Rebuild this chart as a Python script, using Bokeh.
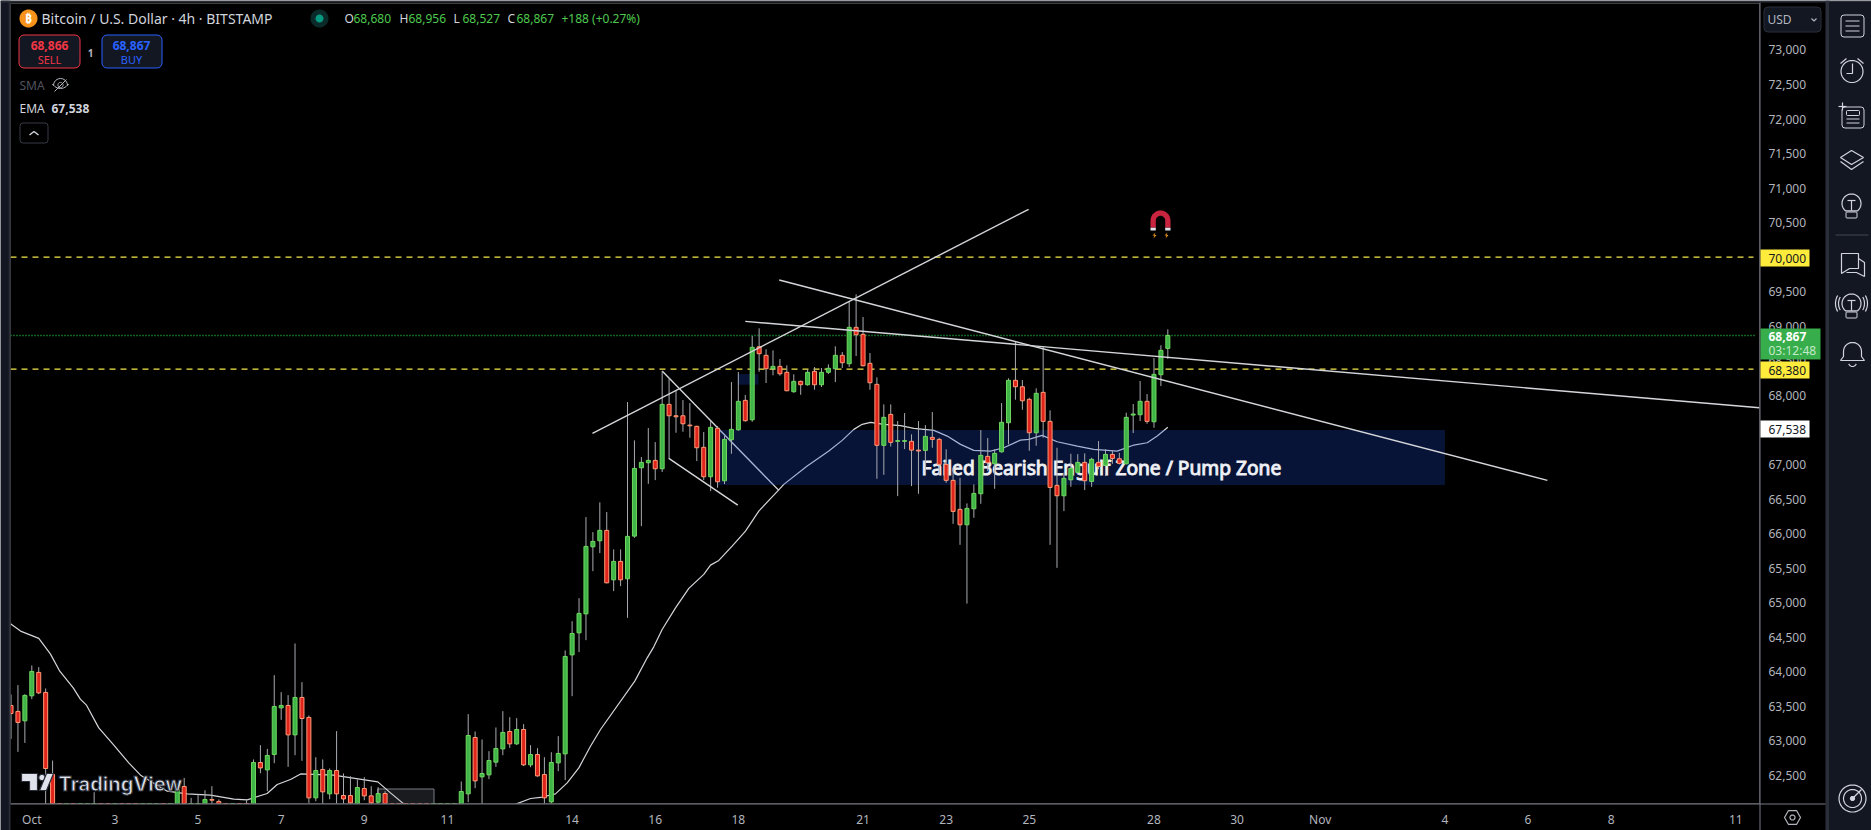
import math
from bokeh.plotting import figure
from bokeh.layouts import column
from bokeh.embed import file_html
from bokeh.resources import INLINE
from bokeh.models import BoxAnnotation, FixedTicker, NumeralTickFormatter, Range1d, ColumnDataSource
from bokeh.core.properties import value

# ---------- data ----------
first_bar = -3
opens = [63511,63425,63289,63651,63990,63700,62513,61692,61250,61400,61100,61300,61500,61700,61200,60900,61000,60950,60850,60700,60900,61200,61350,61250,
 61600,62339,61692,61750,61909,62151,62122,61981,61900,62000,61950,61909,62686,62579,62802,63477,63512,63086,63628,63338,62174,62585,62232,62570,62208,62208,61950,62310,62203,62112,62237,
 61950,61800,61700,61600,61400,61300,61200,61350,61450,61550,61800,62232,63048,62478,62507,62691,62883,63135,62956,63164,62652,62802,62513,62116,62681,62811,64244,64563,64838,65808,65895,66046,65330,65597,65345,65963,66952,67025,67059,66938,67870,67705,67705,67570,67552,67248,66822,67523,66764,67358,67502,67928,67647,68704,68580,68386,68420,68334,68053,68203,68154,68348,68154,68334,68386,68580,68458,68985,68884,68464,68160,67277,67725,67335,67335,67335,67208,67204,67392,67363,67001,66770,66350,66127,66359,66576,67117,67010,67184,67604,68218,68125,67943,67459,68044,67624,66697,66547,66778,66886,67030,66755,67030,66987,67146,67083,67010,67715,67720,67914,67618,68299,68680]
highs = [63670,63806,63675,64091,64066,63758,62715,61800,61500,61650,61500,61700,62256,61950,61400,61200,61300,61150,61100,61000,61300,61500,61600,61700,
 62343,62463,62174,62223,62285,62343,62151,62040,62093,62060,62140,62730,62937,62883,63950,63704,63661,64409,63849,63367,62763,62730,62599,63140,62527,62488,62440,62474,62343,62329,62271,
 62060,62040,61900,61850,61700,61550,61500,61700,61800,61900,62411,63386,63135,63019,62850,63193,63429,63342,63328,63241,62937,62893,62763,62835,63067,64308,64732,65065,66238,66021,66451,66311,65771,65771,67904,67349,67107,67527,67324,68352,68247,68063,67932,67889,67560,67469,67628,67556,67411,68193,68338,68005,68859,68971,68667,68652,68526,68435,68305,68215,68377,68410,68396,68449,68710,68628,69366,69463,69134,68613,68261,67870,67870,67628,67744,67436,67628,67570,67759,67387,67219,66952,66807,66437,66712,67498,67382,67219,67889,68247,68787,68222,67966,68102,68704,67783,67242,66880,67155,67150,67161,67097,67339,67219,67194,67169,67749,67875,68208,68019,68541,68725,68956]
lows = [63027,62840,62970,63603,63675,61909,61550,61100,60900,61000,60800,61000,61300,61100,60700,60500,60800,60600,60500,60450,60750,61000,61100,61100,
 61500,61619,61500,61600,61760,61909,61909,61800,61800,61850,61850,61850,62531,62271,62676,63303,62623,62792,62710,62101,62126,61950,62155,61950,61950,61900,61850,62140,62050,61950,61800,
 61700,61600,61400,61200,61100,61000,61050,61200,61300,61400,61750,62112,62314,62050,62445,62623,62792,62898,62940,62633,62618,62480,62050,62090,62560,62430,63646,64284,64457,65456,65717,65280,65167,65239,64780,65939,66108,66720,66774,66890,67083,67459,67473,67387,67049,66774,66615,66663,66716,67155,67490,67620,67618,68342,68179,68290,68285,68060,68038,68009,68140,68082,68121,68309,68193,68396,68410,68570,68420,68082,66793,66851,67260,66542,67223,66687,66576,66857,67242,66857,66735,66141,65837,64986,66228,66431,66904,66648,67170,67291,67937,67792,67198,67271,67387,65837,65504,66325,66677,66857,66629,66677,66929,66832,67010,67001,67000,67455,67628,67589,67531,68135,68527]
closes = [63395,63266,63657,64004,63694,62599,61692,61250,61400,61100,61300,61500,61700,61200,60900,61000,60950,60850,60700,60900,61200,61350,61250,61600,
 62295,61692,61750,61900,62151,62140,61981,61900,62000,61950,61909,62686,62608,62788,63497,63512,63086,63628,63323,62174,62570,62261,62570,62232,62159,62101,62324,62203,62101,62237,61950,
 61800,61700,61600,61400,61300,61200,61350,61450,61550,61800,62266,63077,62420,62527,62715,62889,63121,62956,63164,62652,62802,62492,62174,62686,62817,64221,64554,64844,65814,65886,66046,65287,65597,65330,65959,66943,67030,67059,66938,67870,67705,67690,67589,67560,67242,66822,67537,66750,67363,67508,67914,67633,68696,68603,68386,68420,68313,68067,68203,68154,68334,68154,68334,68392,68580,68473,68985,68878,68429,68183,67277,67682,67320,67345,67345,67208,67195,67407,67363,67001,66770,66321,66127,66364,66581,67132,67025,67161,67610,68218,68125,67922,67459,68030,67624,66668,66547,66799,66943,67030,66764,67074,66972,67146,67088,67016,67682,67730,67914,67624,68305,68652,68867]

ema_bar = [-3.07,-1.63,1.01,2.7,4.04,5.98,7.03,7.9,9.67,11.84,14.0,15.7,19.55,22.43,25.8,29.16,31.1,33.98,35.43,37.35,38.8,43.55,49.95,51.78,53.7,57.56,63.33,67.66,69.97,72,73.44,75.6,77.29,78.97,80.65,82.1,87.05,88.84,89.79,91.0,92.93,94.85,97.01,97.98,99.18,101.1,103.03,104.95,107.8,108.56,111.94,115.06,116.99,118.67,119.88,121.08,123.0,125.41,127.33,130.22,132.15,134.07,135.99,138.4,140.32,142.73,143.93,145.86,148.03,150.92,153.31,156.69,159.09,161.02,162.47,164]
ema_val = [64693,64588,64482,64255,64008,63767,63599,63516,63187,62937,62681,62503,62271,62232,62213,62155,62145,62237,62368,62440,62521,62503,62406,62246,62087,61909,61807,61952,62087,62165,62180,62232,62391,62608,62922,63164,63864,64201,64360,64612,64925,65206,65409,65543,65611,65818,66036,66325,66629,66712,66977,67194,67349,67508,67581,67610,67581,67563,67523,67494,67411,67291,67204,67194,67242,67353,67363,67421,67329,67266,67219,67194,67281,67314,67411,67538]

trend_a_bar, trend_a_val = [80.94,143.9], [67449,70694]
trend_b_bar, trend_b_val = [107.9,218.8], [69670,66770]
trend_c_bar, trend_c_val = [103.0,249.4], [69072,67821]
trend_d_bar, trend_d_val = [91.0,107.84], [68352,66625]
trend_e_bar, trend_e_val = [91.96,101.92], [67088,66412]

zone_bar, zone_top, zone_bottom = [99.1,204.0], 67498, 66702
patch_bar, patch_top, patch_bottom = [101.9,104.9], 68309, 68154

price_ticks = [p for p in range(62500, 73001, 500)]
date_bars = [0,12,24,36,48,60,78,90,102,120,132,144,162,174,186,204,216,228,246]
date_labels = ["Oct","3","5","7","9","11","14","16","18","21","23","25","28","30","Nov","4","6","8","11"]
level_70000, level_68380, last_price, ema_last = 70000, 68380, 68867, 67538

# ---------- page geometry ----------
W, H = 1871, 830
FL, FR, FT, FB = 10, 1759, 3, 803
BAR0, BARW = 31.3, 6.927
xr = Range1d((FL-BAR0)/BARW, (FR-BAR0)/BARW)
yr = Range1d(73716-14.475*FB, 73716-14.475*FT)

FONT = "Noto Sans"
p = figure(width=W, height=H, frame_width=FR-FL, frame_height=FB-FT, x_range=xr, y_range=yr, output_backend="svg", toolbar_location=None,
           y_axis_location="right", background_fill_color="#000000", border_fill_color="#000000",
           min_border_left=FL, min_border_right=W-FR, min_border_top=FT, min_border_bottom=H-FB,
           outline_line_color=None, frame_align=False)
p.grid.visible = False

ya = p.yaxis[0]
ya.ticker = FixedTicker(ticks=price_ticks)
ya.formatter = NumeralTickFormatter(format="0,0")
ya.major_tick_line_color = None; ya.minor_tick_line_color = None; ya.axis_line_color = None
ya.major_label_text_color = "#b2b5be"; ya.major_label_text_font = FONT; ya.major_label_text_font_size = "12px"
ya.major_label_standoff = 3

xa = p.xaxis[0]
xa.ticker = FixedTicker(ticks=date_bars)
xa.major_label_overrides = dict(zip(date_bars, date_labels))
xa.major_tick_line_color = None; xa.minor_tick_line_color = None; xa.axis_line_color = None
xa.major_label_text_color = "#b2b5be"; xa.major_label_text_font = FONT; xa.major_label_text_font_size = "12px"
xa.major_label_standoff = 1

# ---------- drawing ----------
p.quad(left=[(377-BAR0)/BARW], right=[(433.5-BAR0)/BARW], top=[73716-14.475*788.5], bottom=[73716-14.475*810],
       fill_color="#1a1b1f", line_color="#7a7c85", line_width=1)

p.line(ema_bar, ema_val, line_color="#d4d6da", line_width=1.2)
p.line(trend_d_bar, trend_d_val, line_color="#d4d6da", line_width=1.4)

p.quad(left=[zone_bar[0]], right=[zone_bar[1]], top=[zone_top], bottom=[zone_bottom],
       fill_color="#2150dc", fill_alpha=0.25, line_color=None)
p.quad(left=[patch_bar[0]], right=[patch_bar[1]], top=[patch_top], bottom=[patch_bottom],
       fill_color="#2150dc", fill_alpha=0.25, line_color=None)

for lvl in (level_70000, level_68380):
    p.line([xr.start, (1753-BAR0)/BARW], [lvl, lvl], line_color="#f6e84a", line_width=1.3, line_dash="6 5")
p.line([xr.start, (1756-BAR0)/BARW], [last_price, last_price], line_color="#22c23f", line_width=1.3, line_dash="1 2")

p.text(x=[(921-BAR0)/BARW], y=[66956], text=["Failed Bearish Engulf Zone / Pump Zone"], text_color="#ffffff",
       text_font=value(FONT), text_font_size="19.2px", text_baseline="middle", text_font_style="normal",
       text_outline_color="#e8eaf0")

bars = list(range(first_bar, first_bar+len(opens)))
up = [c >= o for o, c in zip(opens, closes)]
src = ColumnDataSource(dict(x=bars, o=opens, h=highs, l=lows, c=closes,
    fill=["#3fb548" if u else "#e0241b" for u in up],
    edge=["#6fd85f" if u else "#ff9a76" for u in up]))
p.segment("x", "h", "x", "l", source=src, line_color="#a9abb0", line_width=1)
p.vbar(x="x", width=0.58, top="o", bottom="c", source=src, fill_color="fill", line_color="edge", line_width=1)

for xs_, ys_ in ((trend_a_bar, trend_a_val), (trend_b_bar, trend_b_val), (trend_c_bar, trend_c_val), (trend_e_bar, trend_e_val)):
    p.line(xs_, ys_, line_color="#d4d6da", line_width=1.4)

# ---------- interface layer: a second, transparent figure in page pixels ----------
ov = figure(width=W, height=H, x_range=Range1d(0, W), y_range=Range1d(H, 0), output_backend="svg",
            toolbar_location=None, x_axis_type=None, y_axis_type=None, min_border=0,
            min_border_left=0, min_border_right=0, min_border_top=0, min_border_bottom=0,
            background_fill_alpha=0, border_fill_alpha=0, outline_line_color=None, frame_align=False)
ov.grid.visible = False
ov.styles = {"position": "absolute", "left": "0px", "top": "0px"}

def box(x0, y0, x1, y1, fill, line=None, radius=0, lw=1):
    ov.add_layout(BoxAnnotation(left=x0, right=x1, top=y0, bottom=y1,
        fill_color=fill, fill_alpha=1 if fill else 0, line_color=line, line_alpha=1, line_width=lw,
        border_radius=radius, editable=False))

def poly(pts, line="#d1d4dc", fill=None, lw=1.2):
    ov.patch([a for a, b in pts], [b for a, b in pts], line_color=line, line_width=lw,
             fill_color=fill, fill_alpha=1 if fill else 0, level="overlay")

def stroke(pts, line="#d1d4dc", lw=1.2):
    ov.line([a for a, b in pts], [b for a, b in pts], line_color=line, line_width=lw, level="overlay")

def arc(cx, cy, r, a0=0, a1=360, n=40):
    return [(cx + r*math.cos(math.radians(a0+(a1-a0)*k/n)), cy + r*math.sin(math.radians(a0+(a1-a0)*k/n))) for k in range(n+1)]

def text(x, y, s, color="#d1d4dc", size=12, align="left", bold=False, font=FONT, **kw):
    ov.text(x=[x], y=[y], text=[s], text_color=color, text_font=value(font), text_font_size=f"{size}px",
            text_align=align, text_baseline="middle", text_font_style="bold" if bold else "normal",
            level="overlay", **kw)

box(0, 0, 8, 830, "#131722")
box(8, 0, 10, 830, "#2a2e39")
box(0, 0, 1871, 2, "#2a2e39")
box(1825, 0, 1829, 830, "#2a2e39")
box(1829, 2, 1871, 830, "#131722")
box(1759, 2, 1760, 830, "#787b86")
box(10, 803, 1825, 804, "#787b86")

# header
poly(arc(28, 18, 9), line=None, fill="#f7931a")
text(28, 18, "\u20bf", "#ffffff", 12, "center", True)
text(41, 18, "Bitcoin / U.S. Dollar \u00b7 4h \u00b7 BITSTAMP", "#d1d4dc", 14)
poly(arc(319, 18, 9), line=None, fill="#0b2a2a")
poly(arc(319, 18, 4), line=None, fill="#089981")
GREEN = "#4fc94f"
for x0, lab, val in ((344, "O", "68,680"), (399, "H", "68,956"), (453, "L", "68,527"), (507, "C", "68,867")):
    text(x0, 18, lab, "#d1d4dc", 12)
    text(x0+9, 18, val, GREEN, 12)
text(561, 18, "+188 (+0.27%)", GREEN, 12)

box(18.5, 34.5, 79.5, 67.5, "#131722", "#f23645", 5)
text(49, 45, "68,866", "#f23645", 12, "center", True)
text(49, 59, "SELL", "#f23645", 11, "center")
text(90, 52, "1", "#b2b5be", 10, "center", True)
box(101.5, 34.5, 161.5, 67.5, "#131722", "#2962ff", 5)
text(131, 45, "68,867", "#2962ff", 12, "center", True)
text(131, 59, "BUY", "#2962ff", 11, "center")

text(19, 85, "SMA", "#50535e", 12)
poly(arc(60, 85, 7, 180, 360, 12) + arc(60, 79, 9, 30, 150, 12), line="#b2b5be", lw=1)
poly(arc(60, 84.5, 2.6), line="#b2b5be", lw=1)
stroke([(54, 91), (66, 79)], "#b2b5be", 1)
text(19, 108, "EMA", "#d1d4dc", 12)
text(51, 108, "67,538", "#d1d4dc", 12, bold=True)
box(19.5, 122.5, 47.5, 142.5, None, "#363a45", 3)
stroke([(29, 134.5), (33.5, 131), (38, 134.5)], "#d1d4dc", 1.4)

# price scale tags
box(1763.5, 6.5, 1820.5, 31.5, "#131722", "#2a2e39", 4)
text(1767, 19, "USD", "#b2b5be", 12)
stroke([(1811, 18), (1813.5, 20.5), (1816, 18)], "#b2b5be", 1.1)
box(1760, 249, 1809, 266, "#ffeb3b")
text(1768, 257.5, "70,000", "#131722", 12)
box(1760, 361, 1809, 378, "#ffeb3b")
text(1768, 369.5, "68,380", "#131722", 12)
box(1760, 420, 1809, 437, "#ffffff")
text(1768, 428.5, "67,538", "#131722", 12)
box(1760, 328, 1820, 359, "#37ad4b")
text(1768, 336, "68,867", "#ffffff", 12, bold=True)
text(1768, 349.5, "03:12:48", "#c4ebc9", 12)

# magnet
poly(arc(1160, 220, 10, 180, 360, 20) + [(1170, 227), (1164.7, 227)] + arc(1160, 220, 4.7, 360, 180, 20) + [(1155.3, 227), (1150, 227)],
     line=None, fill="#c9243f")
box(1150, 227, 1155.3, 230, "#e0e3eb")
box(1164.7, 227, 1170, 230, "#e0e3eb")
for cx in (1154, 1166):
    poly([(cx+1, 232), (cx-2, 235), (cx, 235), (cx-1, 238), (cx+2, 234.5), (cx, 234.5)], line=None, fill="#f59f1c")

# TradingView watermark
poly([(21, 773), (37, 773), (37, 790), (29, 790), (29, 781), (21, 781)], line="#2a2e39", fill="#e0e3eb")
poly(arc(41.5, 777, 3.2), line="#2a2e39", fill="#e0e3eb")
poly([(46, 773), (53, 773), (46, 790), (39, 790)], line="#2a2e39", fill="#e0e3eb")
text(58, 783, "TradingView", "#e0e3eb", 20, bold=True, font="Inter", text_outline_color="#2a2e39")

# right toolbar icons
C = "#d1d4dc"
box(1840.5, 14.5, 1863.5, 36.5, None, C, 3)
for yy in (20, 25, 30):
    box(1845, yy, 1859, yy+1, C)
poly(arc(1851.5, 71, 11), C)
stroke([(1852, 63), (1852, 73), (1846, 73)], C)
stroke([(1840, 63), (1846, 58)], C); stroke([(1863, 63), (1857, 58)], C)
box(1841.5, 106.5, 1863.5, 127.5, None, C, 3)
box(1846, 110, 1859, 115, None, C, 1)
for yy in (118, 122):
    box(1846, yy, 1859, yy+1, C)
stroke([(1838, 106), (1846, 106)], C); stroke([(1842, 102), (1842, 110)], C)
poly([(1851, 150), (1863, 157), (1851, 164), (1840, 157)], C)
stroke([(1840, 161), (1851, 169), (1863, 161)], C)
poly(arc(1851, 203, 9.5, 130, 410, 24), C)
stroke([(1851, 200), (1851, 210)], C); stroke([(1847, 200), (1855, 200)], C)
box(1845.5, 211.5, 1856.5, 217.5, None, C, 1)
box(1835, 234, 1868, 235, "#434651")
poly([(1841, 253), (1858, 253), (1858, 268), (1849, 268), (1841, 273)], C)
stroke([(1858, 258), (1864, 262), (1864, 276), (1856, 272), (1846, 272)], C)
poly(arc(1851, 303, 9.5, 130, 410, 24), C)
stroke([(1851, 300), (1851, 310)], C); stroke([(1847, 300), (1855, 300)], C)
box(1845.5, 311.5, 1856.5, 317.5, None, C, 1)
for s_, r_ in ((1, 13), (1, 16), (-1, 13), (-1, 16)):
    a = arc(1851, 303, r_, -30, 30, 8) if s_ > 0 else arc(1851, 303, r_, 150, 210, 8)
    stroke(a, C)
poly(arc(1852, 351, 9, 180, 360, 16) + [(1861, 356), (1864, 360), (1840, 360), (1843, 356)], C)
stroke(arc(1852, 362, 4, 20, 160, 8), C)
poly(arc(1852, 798, 13.5), C); poly(arc(1852, 798, 9), C)
poly(arc(1852, 798, 2), C, fill=C)
stroke([(1852, 798), (1861, 789)], C)
poly([(1792+8*math.cos(math.radians(a)), 817+8*math.sin(math.radians(a))) for a in range(0, 360, 60)], "#b2b5be")
poly(arc(1792, 817, 2.5), "#b2b5be")

page = column(p, ov, spacing=0)
open("out.html", "w").write(file_html(page, INLINE))
